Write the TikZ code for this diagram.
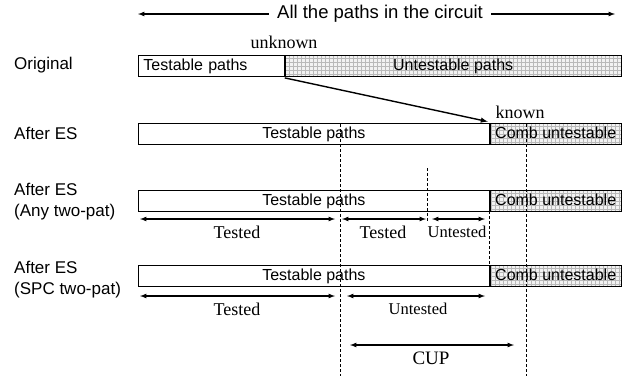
\documentclass[tikz,border=0pt]{standalone}
\usepackage{fontspec}
\setmainfont{Liberation Serif}
\setsansfont{Liberation Sans}
\usetikzlibrary{arrows,positioning}

\tikzset{
  bar/.style={draw, line width=0.8pt, minimum height=21pt, inner sep=0pt, anchor=west,
    text height=12pt, text depth=2pt, font=\sffamily\fontsize{16}{19}\selectfont},
  untest/.style={bar, fill=gray!10, path picture={
    \draw[gray!55, line width=0.4pt, step=4pt] (path picture bounding box.south west) grid (path picture bounding box.north east);}},
  rowlabel/.style={anchor=west, align=left, inner sep=0pt, font=\sffamily\fontsize{17}{21}\selectfont},
  dim/.style={<->, >=latex, line width=1.2pt},
  guide/.style={line width=1pt, dash pattern=on 3pt off 2pt},
  lbl/.style={inner sep=0pt, font=\fontsize{16.5}{20}\selectfont}
}

\begin{document}
\begin{tikzpicture}[x=1pt, y=-1pt]
            \useasboundingbox (0,0) rectangle (638,376);

            % top arrow over all paths
            \node[inner xsep=8pt, font=\sffamily\fontsize{18.5}{22}\selectfont] (all) at (380,14) {All the paths in the circuit};
            \coordinate (allL) at (138,14);
            \coordinate (allR) at (615,14);
            \draw[->, >=latex, line width=1.2pt] (all.west) -- (allL);
            \draw[->, >=latex, line width=1.2pt] (all.east) -- (allR);

            % rows
            \node[rowlabel] (lOrig) at (14,65.5) {Original};
            \node[bar, minimum width=146pt, text width=136pt, inner xsep=5pt, align=left] (origT) at (138,65.5) {Testable paths};
            \node[untest, minimum width=336pt, right=0pt of origT] (origU) {Untestable paths};
            \node[lbl, font=\fontsize{18}{20}\selectfont] (unk) at (284,42) {unknown};

            \node[rowlabel] (lEs) at (14,133.5) {After ES};
            \node[bar, minimum width=351pt] (esT) at (138,133.5) {Testable paths};
            \node[untest, minimum width=131pt, right=0pt of esT] (esC) {Comb untestable};
            \node[lbl, font=\fontsize{18}{20}\selectfont] (kn) at (520,112) {known};

            \node[rowlabel] (lAny) at (14,202) {After ES\\(Any two-pat)};
            \node[bar, minimum width=351pt] (anyT) at (138,200.5) {Testable paths};
            \node[untest, minimum width=131pt, right=0pt of anyT] (anyC) {Comb untestable};

            \node[rowlabel] (lSpc) at (14,280) {After ES\\(SPC two-pat)};
            \node[bar, minimum width=351pt] (spcT) at (138,275.5) {Testable paths};
            \node[untest, minimum width=131pt, right=0pt of spcT] (spcC) {Comb untestable};

            % unknown -> known
            \draw[->, >=latex, line width=1.4pt] ([yshift=-1.5pt]origU.south west) -- ([shift={(-2pt,1pt)}]esC.north west);

            % dashed guides
            \draw[guide] (340,124) -- (340,376);
            \draw[guide] (526,124) -- (526,376);
            \draw[guide] (427,168) -- (427,221);
            \draw[guide] (489,211) -- (489,265);

            % any two-pat
            \draw[dim] (140,219) -- (335,219);
            \draw[dim] (342,219) -- (426,219);
            \draw[dim] (432,219) -- (485,219);
            \node[lbl, font=\fontsize{18}{20}\selectfont] (anyTd1) at (237,232) {Tested};
            \node[lbl, font=\fontsize{18}{20}\selectfont] (anyTd2) at (383,232) {Tested};
            \node[lbl] (anyUt) at (457,232) {Untested};

            % spc two-pat
            \draw[dim] (140,296) -- (335,296);
            \draw[dim] (347,296) -- (485,296);
            \node[lbl, font=\fontsize{18}{20}\selectfont] (spcTd) at (237,309) {Tested};
            \node[lbl] (spcUt) at (418,309) {Untested};

            \draw[dim] (350,345) -- (514,345);
            \node[lbl, font=\fontsize{19}{21}\selectfont] (cup) at (431,358) {CUP};

        \end{tikzpicture}
\end{document}
